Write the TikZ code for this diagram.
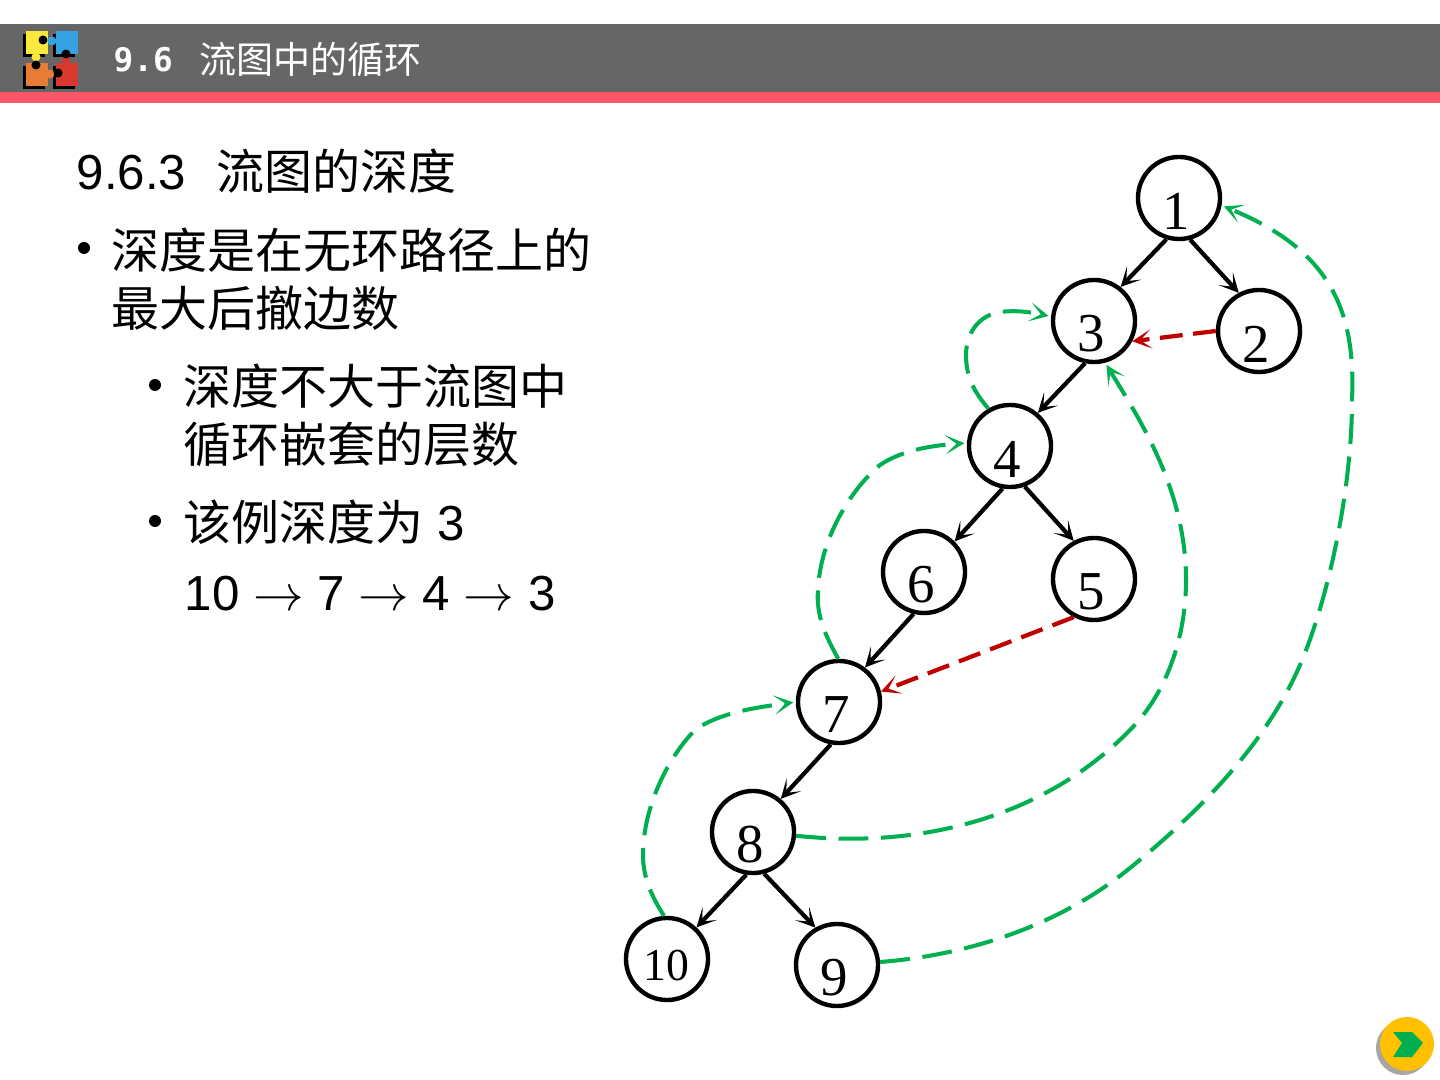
\documentclass[tikz,border=0pt]{standalone}
\usepackage{amsmath,amssymb}
\usepackage{fontspec}
\usepackage{xcolor}
\usepackage{tikz}
\usetikzlibrary{arrows.meta, positioning}
\setmainfont{Liberation Sans}
\newfontfamily\cjk[Scale=0.975]{Noto Sans CJK SC}
\newfontfamily\numfont{Liberation Serif}
\newfontfamily\headmono{DejaVu Sans Mono}
\definecolor{barGray}{HTML}{666666}
\definecolor{barRed}{HTML}{FA5667}
\definecolor{backGreen}{HTML}{00B050}
\definecolor{crossRed}{HTML}{C00000}
\definecolor{btnYellow}{HTML}{FFC000}
\definecolor{logoYellow}{HTML}{FBE83C}
\definecolor{logoBlue}{HTML}{35A2E4}
\definecolor{logoOrange}{HTML}{E87B35}
\definecolor{logoRed}{HTML}{D8382F}

\begin{document}
\begin{tikzpicture}[
  x=0.01cm, y=-0.01cm,
  >={Stealth[length=5.5pt, width=5.5pt, inset=3.2pt]},
  numlabel/.style={xshift=-0.03cm, yshift=-0.13cm, inner sep=0pt, font=\fontsize{15.6}{16}\numfont},
  flownode/.style={circle, draw=black, line width=1.25pt, minimum size=0.82cm, inner sep=0pt},
  treeedge/.style={->, black, line width=1.2pt},
  backedge/.style={->, backGreen, line width=1.15pt, dash pattern=on 8.5pt off 3.6pt, shorten >=0.7pt},
  crossedge/.style={->, crossRed, line width=1.2pt, dash pattern=on 6.5pt off 3pt},
  bodytext/.style={anchor=base west, align=left, inner sep=0pt, font=\fontsize{14}{16.5}\selectfont},
  dotnode/.style={circle, fill=black, inner sep=0pt, minimum size=0.12cm},
  piece/.style={minimum width=0.22cm, minimum height=0.23cm, inner sep=0pt, anchor=north west},
  knob/.style={circle, inner sep=0pt, minimum size=0.09cm}
]
\useasboundingbox (0,0) rectangle (1440,1080);

% header
\fill[barGray] (0,24) rectangle (1440,92);
\fill[barRed] (0,92) rectangle (1440,103);
\node[anchor=base west, inner sep=0pt, text=white, font=\fontsize{9.3}{12}\headmono\bfseries] (headnum) at (113,72) {9.6};
\node[anchor=base west, inner sep=0pt, text=white, font=\fontsize{10.8}{12}\cjk] (headtitle) at (199,74) {流图中的循环};

% logo
\node[piece, fill=black] (shadeA) at (22,33) {};
\node[piece, fill=black] (shadeB) at (52,33) {};
\node[piece, fill=black] (shadeC) at (22,65) {};
\node[piece, fill=black] (shadeD) at (52,65) {};
\node[piece, fill=logoYellow] (pieceA) at (25,30) {};
\node[piece, fill=logoBlue] (pieceB) at (55,30) {};
\node[piece, fill=logoOrange] (pieceC) at (25,62) {};
\node[piece, fill=logoRed] (pieceD) at (55,62) {};
\node[knob, fill=logoYellow] (knobA) at (36,57) {};
\node[knob, fill=logoBlue] (knobB) at (52,41) {};
\node[knob, fill=logoOrange] (knobC) at (50,74) {};
\node[knob, fill=logoRed] (knobD) at (66,59) {};
\node[knob, fill=black] (holeA) at (43,40) {};
\node[knob, fill=black] (holeB) at (66,54) {};
\node[knob, fill=black] (holeC) at (36,65) {};
\node[knob, fill=black] (holeD) at (58,73) {};

% left text
\node[bodytext] (subhead) at (76,190) {9.6.3\hspace{0.62em}{\cjk 流图的深度}};
\node[dotnode] (dotA) at (84,248) {};
\node[bodytext] (textA) at (111,327) {{\cjk 深度是在无环路径上的}\\{\cjk 最大后撤边数}};
\node[dotnode] (dotB) at (155,385) {};
\node[bodytext] (textB) at (183,463) {{\cjk 深度不大于流图中}\\{\cjk 循环嵌套的层数}};
\node[dotnode] (dotC) at (155,521) {};
\node[bodytext] (textC) at (183,541) {{\cjk 该例深度为} 3};
\node[bodytext] (textD) at (184,611) {10 $\rightarrow$ 7 $\rightarrow$ 4 $\rightarrow$ 3};

% flow graph nodes
\node[flownode, label={[numlabel]center:1}] (n1) at (1179,198) {};
\node[flownode, label={[numlabel]center:3}] (n3) at (1094,321) {};
\node[flownode, label={[numlabel]center:2}] (n2) at (1259,331) {};
\node[flownode, label={[numlabel]center:4}] (n4) at (1010,446) {};
\node[flownode, label={[numlabel]center:6}] (n6) at (924,572) {};
\node[flownode, label={[numlabel]center:5}] (n5) at (1094,579) {};
\node[flownode, label={[numlabel]center:7}] (n7) at (839,702) {};
\node[flownode, label={[numlabel]center:8}] (n8) at (753,832) {};
\node[flownode, label={[numlabel, xshift=0.02cm, yshift=0.06cm, font=\fontsize{13}{14}\numfont]center:10}] (n10) at (667,959) {};
\node[flownode, label={[numlabel]center:9}] (n9) at (837,965) {};

% tree edges
\draw[treeedge] (n1.-107) -- (n3.52);
\draw[treeedge] (n1.-75) -- (n2.118);
\draw[treeedge] (n3.-102) -- (n4.50);
\draw[treeedge] (n4.-100) -- (n6.45);
\draw[treeedge] (n4.-70) -- (n5.118);
\draw[treeedge] (n6.-104) -- (n7.53);
\draw[treeedge] (n7.-101) -- (n8.50);
\draw[treeedge] (n8.-99) -- (n10.47);
\draw[treeedge] (n8.-75) -- (n9.120);

% cross edges
\draw[crossedge] (n2.180) -- (n3.-28);
\draw[crossedge] (n5.-118) -- (n7.14);

% back edges
\draw[backedge, dash pattern=on 8pt off 3.6pt] (n4.120) .. controls (975,393) and (966,378) .. (966,355)
  .. controls (966,332) and (980,315) .. (1000,312) .. controls (1015,310) and (1030,312) .. (n3.174);
\draw[backedge] (n7.91) .. controls (825,635) and (816,615) .. (818,590)
  .. controls (820,540) and (850,490) .. (880,465) .. controls (905,448) and (940,445) .. (n4.176);
\draw[backedge] (n10.94) .. controls (652,897) and (643,878) .. (643,855)
  .. controls (643,805) and (670,755) .. (695,730) .. controls (720,712) and (760,707) .. (n7.180);
\draw[backedge] (n8.-5) .. controls (930,850) and (1050,812) .. (1130,730)
  .. controls (1165,695) and (1186,640) .. (1186,580) .. controls (1186,490) and (1140,420) .. (n3.-75);
\draw[backedge] (n9.4) .. controls (970,955) and (1060,925) .. (1130,868)
  .. controls (1200,811) and (1265,745) .. (1300,665) .. controls (1328,600) and (1352,490) .. (1352,400)
  .. controls (1356,310) and (1330,250) .. (n1.-10);

% next button
\node[circle, fill=gray!70, minimum size=0.54cm, inner sep=0pt] (btnshade) at (1403,1048) {};
\node[circle, fill=btnYellow, minimum size=0.54cm, inner sep=0pt] (btn) at (1407,1044) {};
\fill[backGreen] (1393,1032) -- (1412,1032) -- (1423,1043) -- (1412,1057) -- (1393,1057) -- (1402,1043) -- cycle;
\end{tikzpicture}
\end{document}
